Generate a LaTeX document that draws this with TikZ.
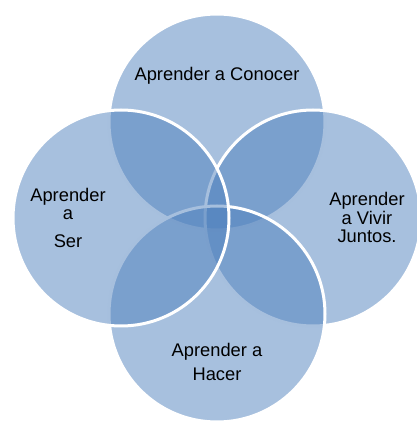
\documentclass[tikz,border=0pt]{standalone}
\usepackage{fontspec}
\setmainfont{Liberation Sans}
\definecolor{azul}{RGB}{79,129,189}
\tikzstyle{circulo}=[circle,minimum size=216pt,inner sep=0pt,
draw=white,line width=3pt,fill=azul,fill opacity=0.5]
\tikzstyle{texto}=[text=black,align=center,anchor=base,
font=\fontsize{18.3}{18.5}\selectfont]

\begin{document}
\begin{tikzpicture}[x=1pt,y=1pt]
\useasboundingbox (0,0) rectangle (416,421);
\node[circulo] (CC) at (217,299) {};
\node[circulo] (CV) at (313,203) {};
\node[circulo] (CH) at (217,107) {};
\node[circulo] (CS) at (121,203) {};

\node[texto] (Con) at (217,340) {Aprender a Conocer};
\node[texto] (Viv) at (367,178) {Aprender\\a Vivir\\Juntos.};
\node[texto] (Hac) at (217,40) {Aprender a\\[6.5pt]Hacer};
\node[texto] (Ser) at (68,173) {Aprender\\a\\[9.5pt]Ser};
\end{tikzpicture}
\end{document}
